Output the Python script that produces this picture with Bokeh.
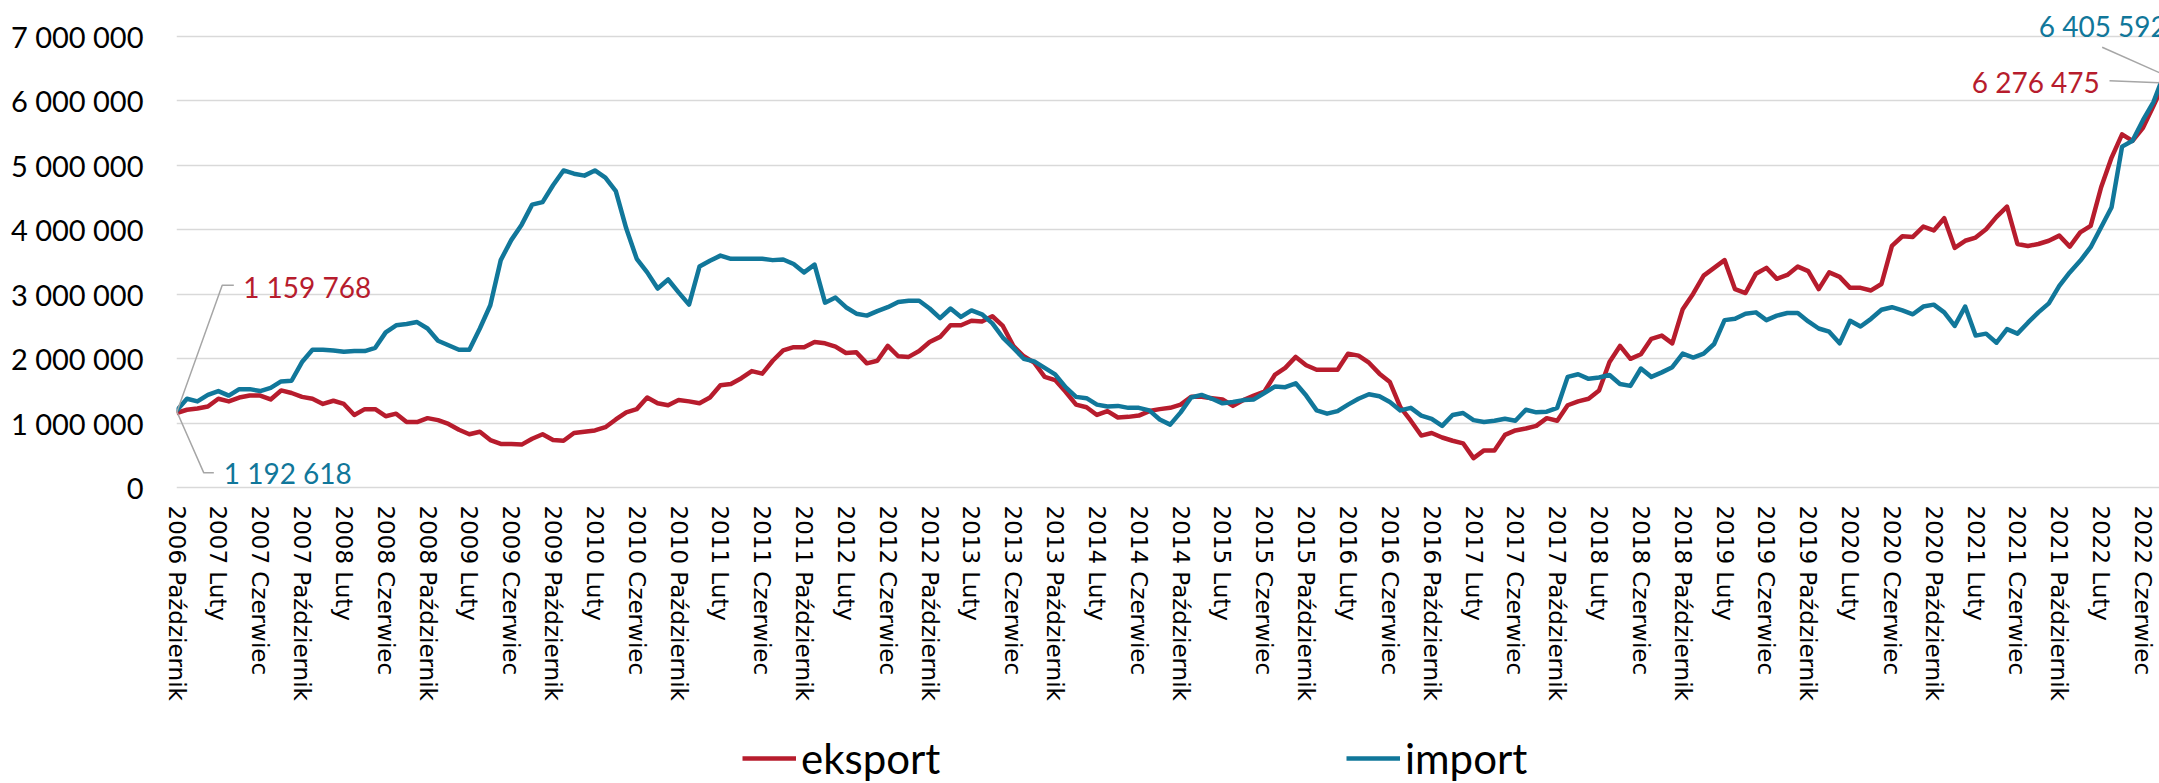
from bokeh.plotting import figure
from bokeh.models import Range1d, FixedTicker, Legend, LegendItem
from bokeh.layouts import column
from bokeh.core.properties import value
from bokeh.embed import file_html
from bokeh.resources import INLINE

# ---------------- data ----------------
months_pl = ["Styczeń", "Luty", "Marzec", "Kwiecień", "Maj", "Czerwiec", "Lipiec",
             "Sierpień", "Wrzesień", "Październik", "Listopad", "Grudzień"]
start_year = 2006
start_month = 9  # Październik (0-based)

# monthly values in millions, 2006 Październik .. 2022 Sierpień
eksport_mln = [
    1.159768, 1.21, 1.23, 1.26, 1.38, 1.34, 1.40, 1.43, 1.43, 1.37, 1.51, 1.47, 1.41, 1.38, 1.30,
    1.35, 1.30, 1.13, 1.22, 1.22, 1.11, 1.15, 1.02, 1.02, 1.08, 1.05, 0.99, 0.90, 0.83, 0.87,
    0.74, 0.68, 0.68, 0.67, 0.76,
    0.83, 0.74, 0.73, 0.85, 0.87, 0.89, 0.94, 1.06, 1.17, 1.22, 1.40, 1.31, 1.28, 1.36, 1.34,
    1.31, 1.40, 1.59, 1.61, 1.70, 1.81, 1.77, 1.97, 2.13, 2.18, 2.18, 2.26, 2.24, 2.19, 2.09,
    2.10, 1.93, 1.97,
    2.20, 2.04, 2.03, 2.12, 2.26, 2.34, 2.52, 2.52, 2.59, 2.58, 2.66, 2.51, 2.20, 2.04, 1.94,
    1.72, 1.67, 1.49, 1.29, 1.25, 1.13, 1.19, 1.09, 1.10, 1.12, 1.19, 1.22, 1.24, 1.29, 1.41,
    1.41, 1.39, 1.37,
    1.27, 1.36, 1.43, 1.49, 1.75, 1.86, 2.03, 1.90, 1.83, 1.83, 1.83, 2.08, 2.05, 1.94, 1.77,
    1.64, 1.25, 1.04, 0.81, 0.85, 0.78, 0.73, 0.69, 0.46, 0.58, 0.58, 0.82, 0.89, 0.92, 0.96,
    1.08, 1.04, 1.28, 1.34,
    1.38, 1.51, 1.95, 2.20, 2.00, 2.07, 2.31, 2.36, 2.24, 2.77, 3.01, 3.29, 3.41, 3.53, 3.08,
    3.02, 3.32, 3.41, 3.24, 3.30, 3.43, 3.36, 3.08, 3.34, 3.27, 3.10, 3.10, 3.06, 3.16, 3.75,
    3.90, 3.89, 4.05,
    3.99, 4.18, 3.72, 3.83, 3.88, 4.01, 4.20, 4.36, 3.78, 3.75, 3.78, 3.83, 3.91, 3.74, 3.96,
    4.06, 4.66, 5.12, 5.48, 5.38, 5.58, 5.92, 6.276475,
]
import_mln = [
    1.192618, 1.38, 1.34, 1.44, 1.50, 1.43, 1.53, 1.53, 1.50, 1.55, 1.65, 1.66, 1.95, 2.14, 2.14,
    2.13, 2.11, 2.12, 2.12, 2.17, 2.41, 2.52, 2.54, 2.57, 2.47, 2.28, 2.21, 2.14, 2.14, 2.47,
    2.83, 3.53, 3.84, 4.08, 4.39,
    4.43, 4.69, 4.92, 4.87, 4.84, 4.92, 4.81, 4.60, 4.02, 3.55, 3.34, 3.09, 3.23, 3.03, 2.84,
    3.43, 3.52, 3.60, 3.55, 3.55, 3.55, 3.55, 3.53, 3.54, 3.47, 3.34, 3.46, 2.87, 2.95, 2.80,
    2.70, 2.67, 2.74,
    2.80, 2.88, 2.90, 2.90, 2.78, 2.63, 2.78, 2.65, 2.75, 2.69, 2.55, 2.33, 2.17, 2.00, 1.96,
    1.86, 1.76, 1.56, 1.41, 1.39, 1.29, 1.26, 1.27, 1.24, 1.24, 1.20, 1.06, 0.98, 1.17, 1.40,
    1.44, 1.38, 1.31,
    1.33, 1.36, 1.37, 1.47, 1.57, 1.56, 1.62, 1.43, 1.20, 1.15, 1.19, 1.29, 1.38, 1.45, 1.42,
    1.33, 1.20, 1.24, 1.12, 1.07, 0.96, 1.13, 1.16, 1.05, 1.02, 1.04, 1.07, 1.04, 1.21, 1.17,
    1.18, 1.24, 1.72, 1.76,
    1.69, 1.71, 1.75, 1.61, 1.58, 1.85, 1.72, 1.79, 1.87, 2.08, 2.02, 2.08, 2.23, 2.60, 2.62,
    2.70, 2.72, 2.60, 2.67, 2.71, 2.71, 2.58, 2.47, 2.42, 2.24, 2.59, 2.50, 2.62, 2.76, 2.80,
    2.75, 2.69, 2.81,
    2.84, 2.72, 2.51, 2.81, 2.36, 2.39, 2.25, 2.46, 2.39, 2.56, 2.72, 2.86, 3.13, 3.34, 3.52,
    3.73, 4.04, 4.35, 5.29, 5.38, 5.70, 5.98, 6.405592,
]
y_ticks = [0, 1000000, 2000000, 3000000, 4000000, 5000000, 6000000, 7000000]
series_names = ["eksport", "import"]

# ---------------- derived ----------------
n = len(eksport_mln)
xs = list(range(n))
eksport = [v * 1e6 for v in eksport_mln]
imp = [v * 1e6 for v in import_mln]
month_labels = [f"{start_year + (start_month + i) // 12} {months_pl[(start_month + i) % 12]}"
                for i in range(n)]
x_ticks = list(range(0, n, 4))

RED = "#B71C2D"
TEAL = "#11779A"
GREY = "#A6A6A6"
LW = 4.5

p = figure(width=2159, height=710,
           x_range=Range1d(0, 189.58), y_range=Range1d(-26000, 7555000),
           output_backend="svg", toolbar_location=None,
           min_border_left=176, min_border_right=0, min_border_top=0, min_border_bottom=221)
p.outline_line_color = None
p.background_fill_color = "white"
p.border_fill_color = "white"

p.xgrid.visible = False
p.ygrid.ticker = FixedTicker(ticks=y_ticks)
p.ygrid.grid_line_color = "#D9D9D9"
p.ygrid.grid_line_width = 1.5

# y axis
p.yaxis.ticker = FixedTicker(ticks=y_ticks)
p.yaxis.major_label_overrides = {t: f"{t:,}".replace(",", " ") for t in y_ticks}
p.yaxis.major_label_text_font = "Lato"
p.yaxis.major_label_text_font_size = "29px"
p.yaxis.major_label_text_color = "#000000"
p.yaxis.axis_line_color = None
p.yaxis.major_tick_line_color = None
p.yaxis.minor_tick_line_color = None
p.yaxis.major_tick_out = 0
p.yaxis.major_label_standoff = 33

# x axis
p.xaxis.ticker = FixedTicker(ticks=x_ticks)
p.xaxis.major_label_overrides = {i: month_labels[i] for i in x_ticks}
p.xaxis.major_label_orientation = "vertical"
p.xaxis.major_label_text_font = "DejaVu Sans"
p.xaxis.major_label_text_font_size = "23px"
p.xaxis.major_label_text_color = "#000000"
p.xaxis.axis_line_color = None
p.xaxis.major_tick_line_color = None
p.xaxis.minor_tick_line_color = None
p.xaxis.major_tick_out = 0
p.xaxis.major_label_standoff = 16

# series
p.line(xs, eksport, line_color=RED, line_width=LW, line_join="round")
p.line(xs, imp, line_color=TEAL, line_width=LW, line_join="round")

# leader lines for first / last values
p.line([0, 4.37, 5.48], [eksport[0], 3.14e6, 3.14e6], line_color=GREY, line_width=1.5)
p.line([0, 2.61, 3.57], [imp[0], 0.232e6, 0.232e6], line_color=GREY, line_width=1.5)
p.line([184.8, n - 1], [6.31e6, eksport[-1]], line_color=GREY, line_width=1.5)
p.line([184.1, n - 1], [6.83e6, imp[-1]], line_color=GREY, line_width=1.5)

def fmt(v):
    return f"{round(v):,}".replace(",", " ")

lab = dict(text_font=value("Lato"), text_font_size="28px", text_baseline="middle")
p.text([6.37], [3.12e6], text=[fmt(eksport[0])], text_color=RED, text_align="left", **lab)
p.text([4.52], [0.223e6], text=[fmt(imp[0])], text_color=TEAL, text_align="left", **lab)
p.text([183.87], [6.295e6], text=[fmt(eksport[-1])], text_color=RED, text_align="right", **lab)
p.text([178.04], [7.167e6], text=[fmt(imp[-1])], text_color=TEAL, text_align="left", **lab)

# ---------------- legend strip ----------------
# (its frame is aligned with the main plot's frame, which starts 176 px from the left)
pl = figure(width=2159, height=73, x_range=Range1d(0, 1), y_range=Range1d(0, 1),
            output_backend="svg", toolbar_location=None,
            x_axis_location=None, y_axis_location=None,
            min_border_left=0, min_border_right=0, min_border_top=0, min_border_bottom=0)
pl.outline_line_color = None
pl.grid.visible = False
# same series; they fall outside this strip's ranges, only their legend glyphs are seen
r_exp = pl.line(xs, eksport, line_color=RED, line_width=LW)
r_imp = pl.line(xs, imp, line_color=TEAL, line_width=LW)

for rend, name, xpos in [(r_exp, series_names[0], 742 - 176), (r_imp, series_names[1], 1346 - 176)]:
    lg = Legend(items=[LegendItem(label=name, renderers=[rend])],
                orientation="horizontal", location=(xpos, 0),
                glyph_width=54, glyph_height=40, label_standoff=5,
                label_text_font="Lato", label_text_font_size="42px",
                label_text_color="#000000",
                padding=0, margin=0, border_line_color=None, background_fill_alpha=0)
    pl.add_layout(lg, "center")

layout = column(p, pl, spacing=0)
open("out.html", "w").write(file_html(layout, INLINE))
